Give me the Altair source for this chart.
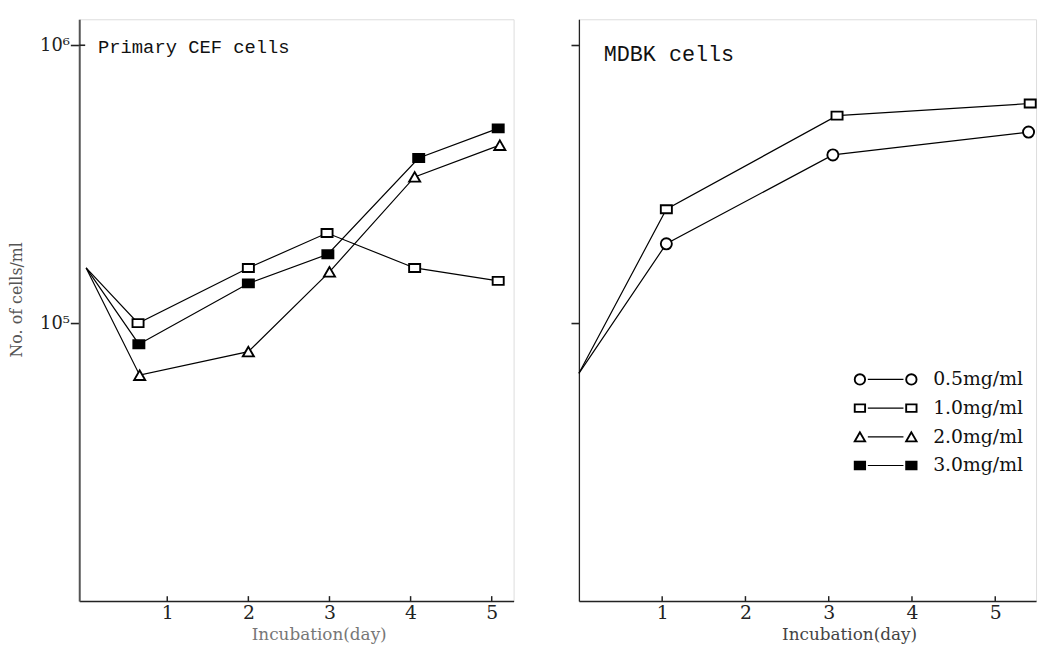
import altair as alt
import pandas as pd

# ---------------- data ----------------
left_series = ["1.0mg/ml", "2.0mg/ml", "3.0mg/ml"]
left_days_10 = [0, 0.64, 2, 2.97, 4.05, 5.08]
left_vals_10 = [158000, 100000, 158000, 211000, 158000, 142000]
left_days_20 = [0, 0.66, 2, 3.0, 4.05, 5.1]
left_vals_20 = [158000, 65000, 79000, 153000, 336000, 437000]
left_days_30 = [0, 0.65, 2, 2.98, 4.1, 5.08]
left_vals_30 = [158000, 84000, 139000, 177000, 393000, 502000]

right_series = ["0.5mg/ml", "1.0mg/ml"]
right_days_05 = [0, 1.05, 3.05, 5.4]
right_vals_05 = [66000, 193000, 403000, 487000]
right_days_10 = [0, 1.05, 3.1, 5.42]
right_vals_10 = [66000, 257000, 558000, 617000]

legend_labels = ["0.5mg/ml", "1.0mg/ml", "2.0mg/ml", "3.0mg/ml"]
x_ticks = [1, 2, 3, 4, 5]
y_ticks = [1e5, 1e6]
panel_titles = ["Primary CEF  cells", "MDBK  cells"]
x_title = "Incubation(day)"
y_title = "No. of cells/ml"

# ---------------- tables ----------------
def table(names, days_list, vals_list):
    rows = []
    for n, ds, vs in zip(names, days_list, vals_list):
        for d, v in zip(ds, vs):
            rows.append({"series": n, "day": d, "cells": v})
    return pd.DataFrame(rows)

left_df = table(left_series, [left_days_10, left_days_20, left_days_30],
                [left_vals_10, left_vals_20, left_vals_30])
right_df = table(right_series, [right_days_05, right_days_10],
                 [right_vals_05, right_vals_10])
tick_df = pd.DataFrame({"day": x_ticks})
top_tick_df = pd.DataFrame({"cells": [y_ticks[1]]})
legend_df = pd.DataFrame({"series": legend_labels, "idx": list(range(len(legend_labels)))})

# ---------------- styling ----------------
SERIF = "DejaVu Serif, Liberation Serif, serif"
MONO = "Liberation Mono, DejaVu Sans Mono, monospace"
RECT = "M-1,-0.72L1,-0.72L1,0.72L-1,0.72Z"
W_L, W_R, H = 439, 462, 588

shape_scale = alt.Scale(domain=legend_labels, range=["circle", RECT, "triangle-up", RECT])
fill_scale = alt.Scale(domain=legend_labels, range=["white", "white", "white", "black"])
shape_enc = alt.Shape("series:N", scale=shape_scale, legend=None)
fill_enc = alt.Fill("series:N", scale=fill_scale, legend=None)

y_scale = alt.Scale(type="log", domain=[1e4, 1.24e6], nice=False)


def panel(df, xdomain, width, left_axis, title_text, title_pos, title_size,
          xtitle_x, xtitle_color):
    x_axis = alt.Axis(values=x_ticks, format="d", ticks=False, grid=False, title=x_title,
                      labelFont=SERIF, labelFontSize=19, labelPadding=3, labelColor="#222",
                      titleFont=SERIF, titleFontSize=17, titleFontWeight="normal",
                      titleColor=xtitle_color, titleX=xtitle_x, titleY=34,
                      titleBaseline="middle", domainColor="#222", domainWidth=1.6)
    if left_axis:
        y_axis = alt.Axis(values=y_ticks, grid=False, title=y_title,
                          labelExpr="datum.value >= 1e6 ? '10⁶' : '10⁵'",
                          labelFont=SERIF, labelFontSize=18, labelPadding=1, labelColor="#222",
                          tickSize=9, tickColor="#222", tickWidth=1.6,
                          domainColor="#555", domainWidth=2,
                          titleFont=SERIF, titleFontSize=16, titleFontWeight="normal",
                          titleColor="#555", titleX=-55, titleY=283, titleBaseline="bottom")
    else:
        y_axis = alt.Axis(values=y_ticks, grid=False, title=None, labels=False,
                          tickSize=8, tickColor="#222", tickWidth=1.6,
                          domainColor="#222", domainWidth=1.3)
    xs = alt.Scale(domain=xdomain, nice=False, zero=False)
    x_enc = alt.X("day:Q", scale=xs, axis=x_axis)
    y_enc = alt.Y("cells:Q", scale=y_scale, axis=y_axis)

    base = alt.Chart(df)
    lines = base.mark_line(color="black", strokeWidth=1.2).encode(
        x=x_enc, y=y_enc, detail="series:N")
    pts = base.transform_filter("datum.day > 0").mark_point(
        filled=True, stroke="black", strokeWidth=1.9, size=125, opacity=1).encode(
        x=x_enc, y=y_enc, shape=shape_enc, fill=fill_enc)
    ticks = alt.Chart(tick_df).mark_rule(color="#222", strokeWidth=1.5).encode(
        x=x_enc, y=alt.value(H), y2=alt.value(H - 5))
    ttl = alt.Chart(pd.DataFrame({"t": [title_text]})).mark_text(
        align="left", baseline="middle", font=MONO, fontSize=title_size, color="#111").encode(
        x=alt.value(title_pos[0]), y=alt.value(title_pos[1]), text="t:N")
    layers = [lines, pts, ticks, ttl]
    if left_axis:
        inner = alt.Chart(top_tick_df).mark_rule(color="#222", strokeWidth=1.6).encode(
            x=alt.value(0), x2=alt.value(6), y=y_enc)
        layers.append(inner)
    return alt.layer(*layers)


# legend drawn inside the right panel
lb = alt.Chart(legend_df).transform_calculate(py="364 + 29 * datum.idx")
ly = alt.Y("py:Q", scale=None, axis=None)
leg_sym1 = lb.mark_point(filled=True, stroke="black", strokeWidth=1.9, size=110, opacity=1).encode(
    x=alt.value(284), y=ly, shape=shape_enc, fill=fill_enc)
leg_sym2 = lb.mark_point(filled=True, stroke="black", strokeWidth=1.9, size=110, opacity=1).encode(
    x=alt.value(336), y=ly, shape=shape_enc, fill=fill_enc)
leg_dash = lb.mark_rule(color="black", strokeWidth=1.2).encode(
    x=alt.value(292), x2=alt.value(328), y=ly)
leg_txt = lb.mark_text(align="left", baseline="middle", font=SERIF, fontSize=19, color="#111").encode(
    x=alt.value(358), y=ly, text="series:N")
legend_layer = alt.layer(leg_dash, leg_sym1, leg_sym2, leg_txt)

left = panel(left_df, [-0.085, 5.27], W_L, True, panel_titles[0], (19, 28), 19,
             242, "#777").properties(width=W_L, height=H)
right_main = panel(right_df, [0, 5.49], W_R, False, panel_titles[1], (25, 35), 22,
                   273, "#444")
right = alt.layer(right_main, legend_layer).resolve_scale(y="independent").properties(
    width=W_R, height=H)

chart = alt.hconcat(left, right, spacing=66, bounds="flush").properties(
    padding={"left": 0, "top": 7, "right": 0, "bottom": 0}
).configure_view(stroke=None).configure(background="white")

chart.save("out.html", embed_options={"renderer": "svg", "actions": False})
